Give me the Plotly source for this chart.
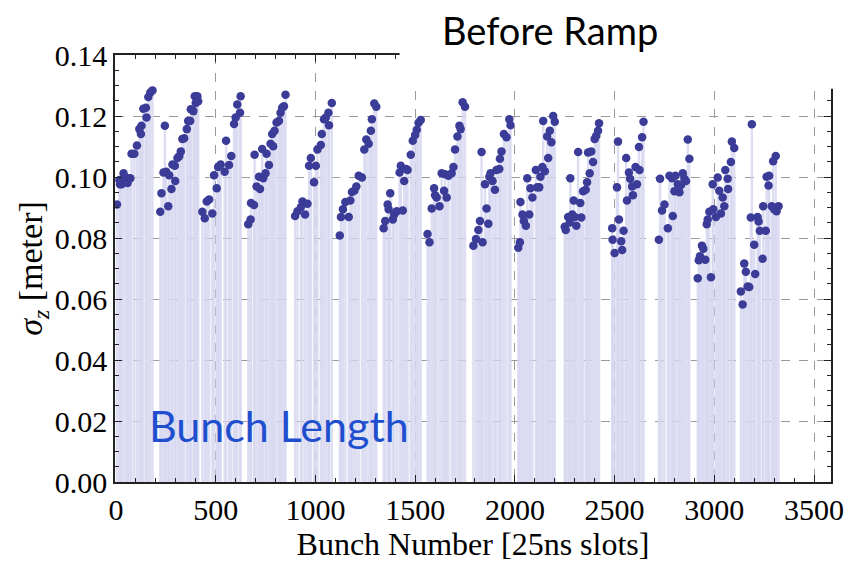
import plotly.graph_objects as go

# ---- data: bunch number (25ns slot) and bunch length sigma_z [m], per train ----
t1_b = [5, 17, 20, 28, 38, 50, 58, 62, 72, 78, 92, 105, 117, 125, 128, 137, 150, 153, 162, 172, 183]
t1_v = [0.0910, 0.0990, 0.0976, 0.0976, 0.1012, 0.0990, 0.0980, 0.0996, 0.0996, 0.1076, 0.1076, 0.1103,
        0.1157, 0.1141, 0.1168, 0.1224, 0.1227, 0.1195, 0.1262, 0.1277, 0.1284]
t2_b = [222, 228, 238, 245, 252, 262, 267, 278, 283, 295, 297, 308, 317, 325, 333, 342, 355, 362, 372, 375,
        388, 395, 400, 408, 412]
t2_v = [0.0886, 0.0947, 0.1015, 0.1168, 0.1017, 0.0904, 0.1006, 0.0961, 0.1041, 0.1037, 0.0987, 0.1062,
        0.1068, 0.1084, 0.1125, 0.1127, 0.1157, 0.1184, 0.1184, 0.1222, 0.1216, 0.1265, 0.1243, 0.1265, 0.1248]
t3_b = [433, 445, 455, 467, 483, 492, 505, 512, 518, 525, 545, 552, 567, 578, 592, 600, 608, 622, 625]
t3_v = [0.0886, 0.0865, 0.0920, 0.0926, 0.0880, 0.1006, 0.0963, 0.1033, 0.1036, 0.1041, 0.1017, 0.1119,
        0.1039, 0.1069, 0.1174, 0.1195, 0.1238, 0.1211, 0.1265]
t4_b = [663, 675, 677, 692, 695, 705, 717, 722, 733, 738, 750, 755, 767, 775, 783, 788, 795, 805, 817, 825,
        833, 842, 850]
t4_v = [0.0845, 0.0861, 0.0915, 0.0908, 0.1073, 0.0969, 0.1001, 0.0961, 0.1092, 0.0996, 0.1012, 0.1076,
        0.1039, 0.1109, 0.1141, 0.1101, 0.1152, 0.1179, 0.1184, 0.1211, 0.1227, 0.1232, 0.1270]
t5_b = [898, 910, 927, 935, 948, 960, 968, 977, 993, 1002, 1010, 1027, 1032, 1043, 1052, 1065, 1068, 1082]
t5_v = [0.0872, 0.0888, 0.0901, 0.0920, 0.0877, 0.0912, 0.1037, 0.1062, 0.0983, 0.1037, 0.1090, 0.1105,
        0.1141, 0.1189, 0.1195, 0.1211, 0.1170, 0.1243]
t6_b = [1122, 1128, 1138, 1150, 1167, 1175, 1183, 1195, 1205, 1217, 1233, 1245, 1255, 1267, 1278, 1283,
        1295, 1305]
t6_v = [0.0808, 0.0869, 0.0894, 0.0918, 0.0869, 0.0923, 0.0951, 0.0955, 0.0969, 0.1004, 0.0998, 0.1090,
        0.1123, 0.1109, 0.1152, 0.1189, 0.1241, 0.1230]
t7_b = [1342, 1350, 1362, 1367, 1375, 1388, 1395, 1408, 1422, 1428, 1438, 1445, 1455, 1462, 1478, 1488,
        1500, 1508, 1517, 1528]
t7_v = [0.0832, 0.0856, 0.0910, 0.0894, 0.0947, 0.0861, 0.0877, 0.0888, 0.1015, 0.1037, 0.0890, 0.0987,
        0.1026, 0.1023, 0.1073, 0.1119, 0.1138, 0.1155, 0.1178, 0.1187]
t8_b = [1562, 1572, 1583, 1595, 1600, 1608, 1622, 1633, 1645, 1650, 1658, 1667, 1683, 1692, 1700, 1712,
        1722, 1728, 1738, 1750]
t8_v = [0.0813, 0.0786, 0.0897, 0.0963, 0.0940, 0.0933, 0.0904, 0.1012, 0.0955, 0.1009, 0.0933, 0.1004,
        0.1012, 0.1033, 0.1090, 0.1133, 0.1168, 0.1157, 0.1245, 0.1230]
t9_b = [1792, 1805, 1817, 1825, 1833, 1838, 1850, 1858, 1867, 1872, 1878, 1888, 1900, 1908, 1922, 1925,
        1933, 1945, 1958, 1972, 1978]
t9_v = [0.0775, 0.0797, 0.0826, 0.0856, 0.1082, 0.0786, 0.0976, 0.0897, 0.0847, 0.1001, 0.1012, 0.0987,
        0.0958, 0.1023, 0.1026, 0.1060, 0.1084, 0.1141, 0.1130, 0.1189, 0.1170]
t10_b = [2017, 2025, 2028, 2038, 2045, 2055, 2062, 2072, 2078, 2088, 2105, 2112, 2122, 2128, 2138, 2142,
         2150, 2162, 2167, 2175, 2183, 2192, 2200]
t10_v = [0.0768, 0.0786, 0.0918, 0.0877, 0.0856, 0.0840, 0.0996, 0.0877, 0.0963, 0.0933, 0.1023, 0.0966,
         0.0966, 0.1001, 0.1033, 0.1184, 0.1019, 0.1133, 0.1062, 0.1152, 0.1114, 0.1200, 0.1181]
t11_b = [2250, 2255, 2267, 2275, 2278, 2288, 2295, 2300, 2308, 2317, 2328, 2333, 2342, 2355, 2362, 2367,
         2375, 2383, 2392, 2400, 2408, 2417, 2422]
t11_v = [0.0837, 0.0826, 0.0869, 0.0851, 0.0996, 0.0877, 0.0923, 0.0869, 0.0840, 0.1082, 0.0915, 0.0867,
         0.0953, 0.0958, 0.0983, 0.1080, 0.1012, 0.1084, 0.1049, 0.1125, 0.1135, 0.1152, 0.1176]
t12_b = [2488, 2490, 2500, 2512, 2517, 2522, 2533, 2538, 2545, 2558, 2562, 2572, 2578, 2588, 2592, 2605,
         2612, 2622, 2625, 2638, 2645]
t12_v = [0.0832, 0.0794, 0.0751, 0.0966, 0.1116, 0.0861, 0.0789, 0.0761, 0.0824, 0.1062, 0.0923, 0.1015,
         0.0994, 0.0969, 0.0940, 0.1033, 0.0976, 0.1098, 0.1023, 0.1130, 0.1181]
t13_b = [2722, 2728, 2738, 2750, 2767, 2775, 2788, 2792, 2800, 2805, 2817, 2825, 2833, 2842, 2850, 2858,
         2867, 2875]
t13_v = [0.0794, 0.0994, 0.0890, 0.0910, 0.0832, 0.1004, 0.0996, 0.0872, 0.0953, 0.1004, 0.0976, 0.0950,
         0.0974, 0.1012, 0.0994, 0.0987, 0.1123, 0.1060]
t14_b = [2917, 2922, 2928, 2938, 2945, 2955, 2962, 2967, 2975, 2983, 2992, 2995, 3008, 3017, 3025, 3033,
         3042, 3050, 3055, 3067, 3069, 3083, 3088, 3100]
t14_v = [0.0668, 0.0727, 0.0740, 0.0775, 0.0765, 0.0729, 0.0845, 0.0861, 0.0886, 0.0671, 0.0976, 0.0894,
         0.0869, 0.0998, 0.0955, 0.0880, 0.0933, 0.0904, 0.1023, 0.0994, 0.0961, 0.1049, 0.1116, 0.1095]
t15_b = [3133, 3142, 3150, 3158, 3167, 3175, 3183, 3188, 3200, 3205, 3217, 3222, 3228, 3242, 3245, 3258,
         3262, 3272, 3275, 3288, 3295, 3300, 3308, 3312, 3322]
t15_v = [0.0625, 0.0582, 0.0716, 0.0689, 0.0641, 0.0639, 0.0867, 0.1173, 0.0778, 0.0682, 0.0869, 0.0854,
         0.0824, 0.0732, 0.0904, 0.0824, 0.1001, 0.0972, 0.1004, 0.0904, 0.1052, 0.0894, 0.1069, 0.0888, 0.0904]

trains_b = [t1_b, t2_b, t3_b, t4_b, t5_b, t6_b, t7_b, t8_b, t9_b, t10_b, t11_b, t12_b, t13_b, t14_b, t15_b]
trains_v = [t1_v, t2_v, t3_v, t4_v, t5_v, t6_v, t7_v, t8_v, t9_v, t10_v, t11_v, t12_v, t13_v, t14_v, t15_v]

x_ticks = [0, 500, 1000, 1500, 2000, 2500, 3000, 3500]
y_ticks = [0.00, 0.02, 0.04, 0.06, 0.08, 0.10, 0.12, 0.14]
y_tick_text = ["%.2f" % v for v in y_ticks]

bunch = [b for tb in trains_b for b in tb]
sigma = [v for tv in trains_v for v in tv]

# stems (filling to axis)
sx, sy = [], []
for b, v in zip(bunch, sigma):
    sx += [b, b, None]
    sy += [0, v, None]

fig = go.Figure()
fig.add_trace(go.Scatter(x=sx, y=sy, mode="lines",
                         line=dict(color="rgba(214,214,240,0.8)", width=2.4),
                         hoverinfo="skip", showlegend=False))
fig.add_trace(go.Scatter(x=bunch, y=sigma, mode="markers",
                         marker=dict(color="#3b3b98", size=8.5, line=dict(width=0)),
                         showlegend=False))

SERIF = "Liberation Serif"
tick_font = dict(family=SERIF, size=30, color="black")
title_font = dict(family=SERIF, size=32, color="black")

axis_common = dict(
    showline=True, linecolor="#222", linewidth=1.5, mirror="ticks",
    ticks="inside", tickcolor="#222", ticklen=7, tickwidth=1,
    showgrid=True, gridcolor="#9a9a9a", griddash="dash", gridwidth=1,
    zeroline=False,
)
fig.update_xaxes(range=[-5, 3585], tickvals=x_ticks, tickfont=tick_font,
                 minor=dict(dtick=100, ticks="inside", ticklen=4, tickcolor="#222", showgrid=False),
                 title=dict(text="Bunch Number [25ns slots]", font=title_font, standoff=8),
                 **axis_common)
fig.update_yaxes(range=[0, 0.14], tickvals=y_ticks, ticktext=y_tick_text, tickfont=tick_font,
                 minor=dict(dtick=0.005, ticks="inside", ticklen=4, tickcolor="#222", showgrid=False),
                 title=dict(text="<i>σ</i><sub><i>z</i></sub> [meter]",
                            font=dict(family=SERIF, size=34, color="black"), standoff=2),
                 **axis_common)

# white box behind the title that hides the top-right part of the frame
fig.add_shape(type="rect", xref="paper", yref="paper", x0=0.3975, x1=1.05, y0=0.921, y1=1.2,
              fillcolor="white", line=dict(width=0), layer="above")

fig.add_annotation(text="Before Ramp", xref="paper", yref="paper", x=0.608, y=1.058,
                   showarrow=False, font=dict(family="Lato", size=38, color="black"),
                   xanchor="center", yanchor="middle")
fig.add_annotation(text="Bunch Length", xref="paper", yref="paper", x=0.229, y=0.132,
                   showarrow=False, font=dict(family="Lato", size=43, color="#1f4fcf"),
                   xanchor="center", yanchor="middle")

fig.update_layout(width=856, height=568, margin=dict(l=115, r=24, t=55, b=81),
                  paper_bgcolor="white", plot_bgcolor="white")

fig.write_html("out.html")
